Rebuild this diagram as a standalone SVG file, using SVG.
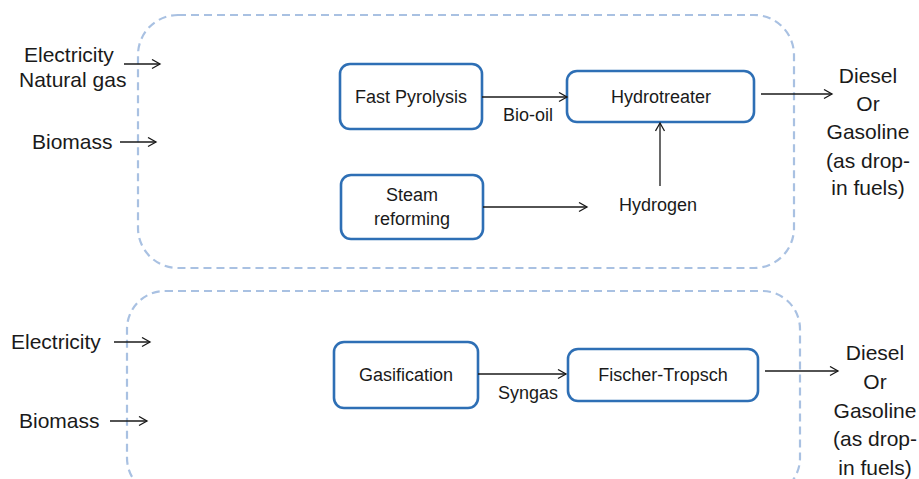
<svg xmlns="http://www.w3.org/2000/svg" width="919" height="479" viewBox="0 0 919 479">
<style>
.bg{fill:#ffffff}
.group{fill:none;stroke:#a9c1e2;stroke-width:2.2;stroke-dasharray:8 5}
.node rect{fill:#ffffff;stroke:#2e6fb5;stroke-width:2.6}
text{font-family:"Liberation Sans",Arial,sans-serif;fill:#1a1a1a}
.big{font-size:21px}
.mid{font-size:18px;text-anchor:middle}
.out{font-size:21px;text-anchor:middle}
.conn line{stroke:#1a1a1a;stroke-width:1.3;marker-end:url(#arr)}
</style>
<defs>
<marker id="arr" markerUnits="userSpaceOnUse" markerWidth="12" markerHeight="12" refX="9" refY="5" orient="auto">
<path d="M1,0.5 L9,5 L1,9.5" fill="none" stroke="#1a1a1a" stroke-width="1.3"/>
</marker>
</defs>
<rect class="bg" x="0" y="0" width="919" height="479"/>
<g id="groups">
<rect class="group" x="138" y="15" width="656" height="253" rx="40"/>
<rect class="group" x="127" y="291" width="673" height="205" rx="38"/>
</g>
<g id="inputs">
<text class="big" x="24" y="62">Electricity</text>
<text class="big" x="19" y="87">Natural gas</text>
<text class="big" x="32" y="149">Biomass</text>
<text class="big" x="11" y="349">Electricity</text>
<text class="big" x="19" y="428">Biomass</text>
</g>
<g id="fast-pyrolysis" class="node">
<rect x="340" y="64" width="142" height="65" rx="10"/>
<text class="mid" x="411" y="103">Fast Pyrolysis</text>
</g>
<g id="steam-reforming" class="node">
<rect x="341" y="175" width="142" height="64" rx="10"/>
<text class="mid" x="412" y="201">Steam</text>
<text class="mid" x="412" y="225">reforming</text>
</g>
<g id="hydrotreater" class="node">
<rect x="567" y="71" width="187" height="51" rx="10"/>
<text class="mid" x="661" y="103">Hydrotreater</text>
</g>
<g id="gasification" class="node">
<rect x="334" y="342" width="144" height="66" rx="10"/>
<text class="mid" x="406" y="381">Gasification</text>
</g>
<g id="fischer-tropsch" class="node">
<rect x="568" y="349" width="190" height="52" rx="10"/>
<text class="mid" x="663" y="381">Fischer-Tropsch</text>
</g>
<g id="labels">
<text class="mid" x="528" y="121">Bio-oil</text>
<text class="mid" x="658" y="211">Hydrogen</text>
<text class="mid" x="528" y="399">Syngas</text>
</g>
<g id="output-top">
<text class="out" x="868" y="83">Diesel</text>
<text class="out" x="868" y="111">Or</text>
<text class="out" x="868" y="139">Gasoline</text>
<text class="out" x="868" y="168">(as drop-</text>
<text class="out" x="868" y="195">in fuels)</text>
</g>
<g id="output-bottom">
<text class="out" x="875" y="360">Diesel</text>
<text class="out" x="875" y="389">Or</text>
<text class="out" x="875" y="418">Gasoline</text>
<text class="out" x="875" y="446">(as drop-</text>
<text class="out" x="875" y="475">in fuels)</text>
</g>
<g id="connectors" class="conn">
<line x1="124" y1="64" x2="160" y2="64"/>
<line x1="120" y1="142" x2="156" y2="142"/>
<line x1="482" y1="97" x2="567" y2="97"/>
<line x1="483" y1="207" x2="587" y2="207"/>
<line x1="660" y1="186" x2="660" y2="123"/>
<line x1="761" y1="94" x2="832" y2="94"/>
<line x1="114" y1="342" x2="150" y2="342"/>
<line x1="110" y1="421" x2="147" y2="421"/>
<line x1="478" y1="374" x2="566" y2="374"/>
<line x1="765" y1="371" x2="838" y2="371"/>
</g>
</svg>
